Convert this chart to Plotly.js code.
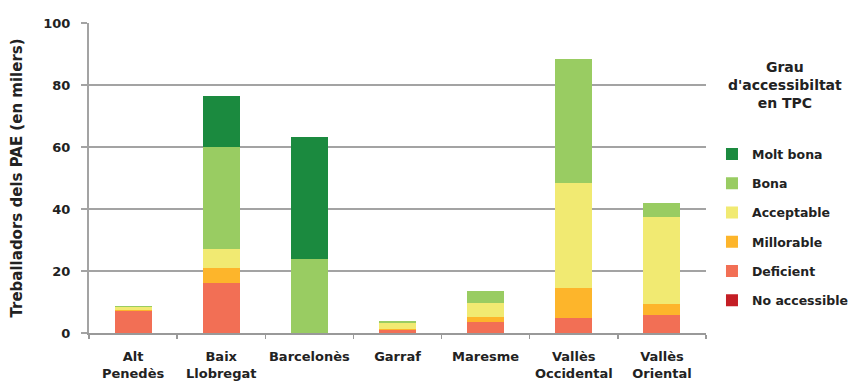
<!DOCTYPE html>
<html>
<head>
<meta charset="utf-8">
<script src="https://cdn.plot.ly/plotly-3.0.1.min.js"></script>
<style>html,body{margin:0;padding:0;background:#fff;}#chart{width:857px;height:385px;}</style>
</head>
<body>
<div id="chart"></div>
<script>
var categories = ["Alt<br>Penedès", "Baix<br>Llobregat", "Barcelonès", "Garraf", "Maresme", "Vallès<br>Occidental", "Vallès<br>Oriental"];
var noAccessible = [0, 0, 0, 0, 0, 0, 0];
var deficient    = [7.0, 16.2, 0, 1.0, 3.4, 4.7, 5.8];
var millorable   = [0.3, 4.7, 0, 0.3, 1.9, 9.9, 3.5];
var acceptable   = [1.2, 6.2, 0, 1.8, 4.3, 33.9, 28.2];
var bona         = [0.3, 33.0, 24.0, 0.9, 4.0, 40.0, 4.5];
var moltBona     = [0, 16.2, 39.3, 0, 0, 0, 0];
var seriesNames  = ["No accessible", "Deficient", "Millorable", "Acceptable", "Bona", "Molt bona"];
var seriesColors = ["#c41e25", "#f26f55", "#fdb52b", "#f1ea72", "#99cc62", "#1b8a3f"];
var seriesValues = [noAccessible, deficient, millorable, acceptable, bona, moltBona];
var yTickVals = [0, 20, 40, 60, 80, 100];

var FONT = "DejaVu Sans";
var traces = seriesValues.map(function (vals, i) {
  return {
    type: "bar",
    name: seriesNames[i],
    x: categories,
    y: vals,
    legendgroup: "g" + i,
    legendrank: 100 - i,
    marker: {color: seriesColors[i], line: {width: 0}},
    hoverinfo: "x+y+name"
  };
});

var layout = {
  width: 857, height: 385,
  margin: {l: 89, r: 151, t: 23, b: 52, autoexpand: false},
  paper_bgcolor: "#ffffff", plot_bgcolor: "#ffffff",
  barmode: "stack", bargap: 0.58,
  font: {family: FONT, size: 13, color: "#222222", weight: "bold"},
  xaxis: {
    type: "category",
    tickson: "boundaries",
    tickangle: 0,
    ticks: "outside", ticklen: 4, tickwidth: 1.5, tickcolor: "#999999",
    showline: true, linecolor: "#999999", linewidth: 2,
    showgrid: false, zeroline: false,
    tickfont: {family: FONT, size: 13, color: "#222222", weight: "bold"},
    ticklabelstandoff: 10
  },
  yaxis: {
    range: [0, 100], tickvals: yTickVals, ticktext: yTickVals.map(String),
    showgrid: true, gridcolor: "#a3a3a3", gridwidth: 2,
    showline: true, linecolor: "#a3a3a3", linewidth: 2,
    zeroline: false,
    ticks: "outside", ticklen: 6, tickcolor: "#a3a3a3", tickwidth: 2,
    ticklabelstandoff: 8,
    tickfont: {family: FONT, size: 13, color: "#222222", weight: "bold"},
    title: {text: "Treballadors dels PAE (en milers)", standoff: 17,
            font: {family: FONT, size: 15, color: "#222222", weight: "bold"}}
  },
  showlegend: true,
  legend: {
    x: 1.0097, xanchor: "left", y: 0.625, yanchor: "top",
    traceorder: "grouped", tracegroupgap: 10,
    font: {family: FONT, size: 12.5, color: "#222222", weight: "bold"},
    bgcolor: "rgba(0,0,0,0)"
  },
  annotations: [{
    xref: "paper", yref: "paper", x: 1.128, y: 0.8,
    xanchor: "center", yanchor: "middle", showarrow: false, align: "center",
    text: "Grau<br>d'accessibiltat<br>en TPC",
    font: {family: FONT, size: 14, color: "#222222", weight: "bold"}
  }]
};

Plotly.newPlot("chart", traces, layout, {displayModeBar: false, staticPlot: true});
</script>
</body>
</html>
